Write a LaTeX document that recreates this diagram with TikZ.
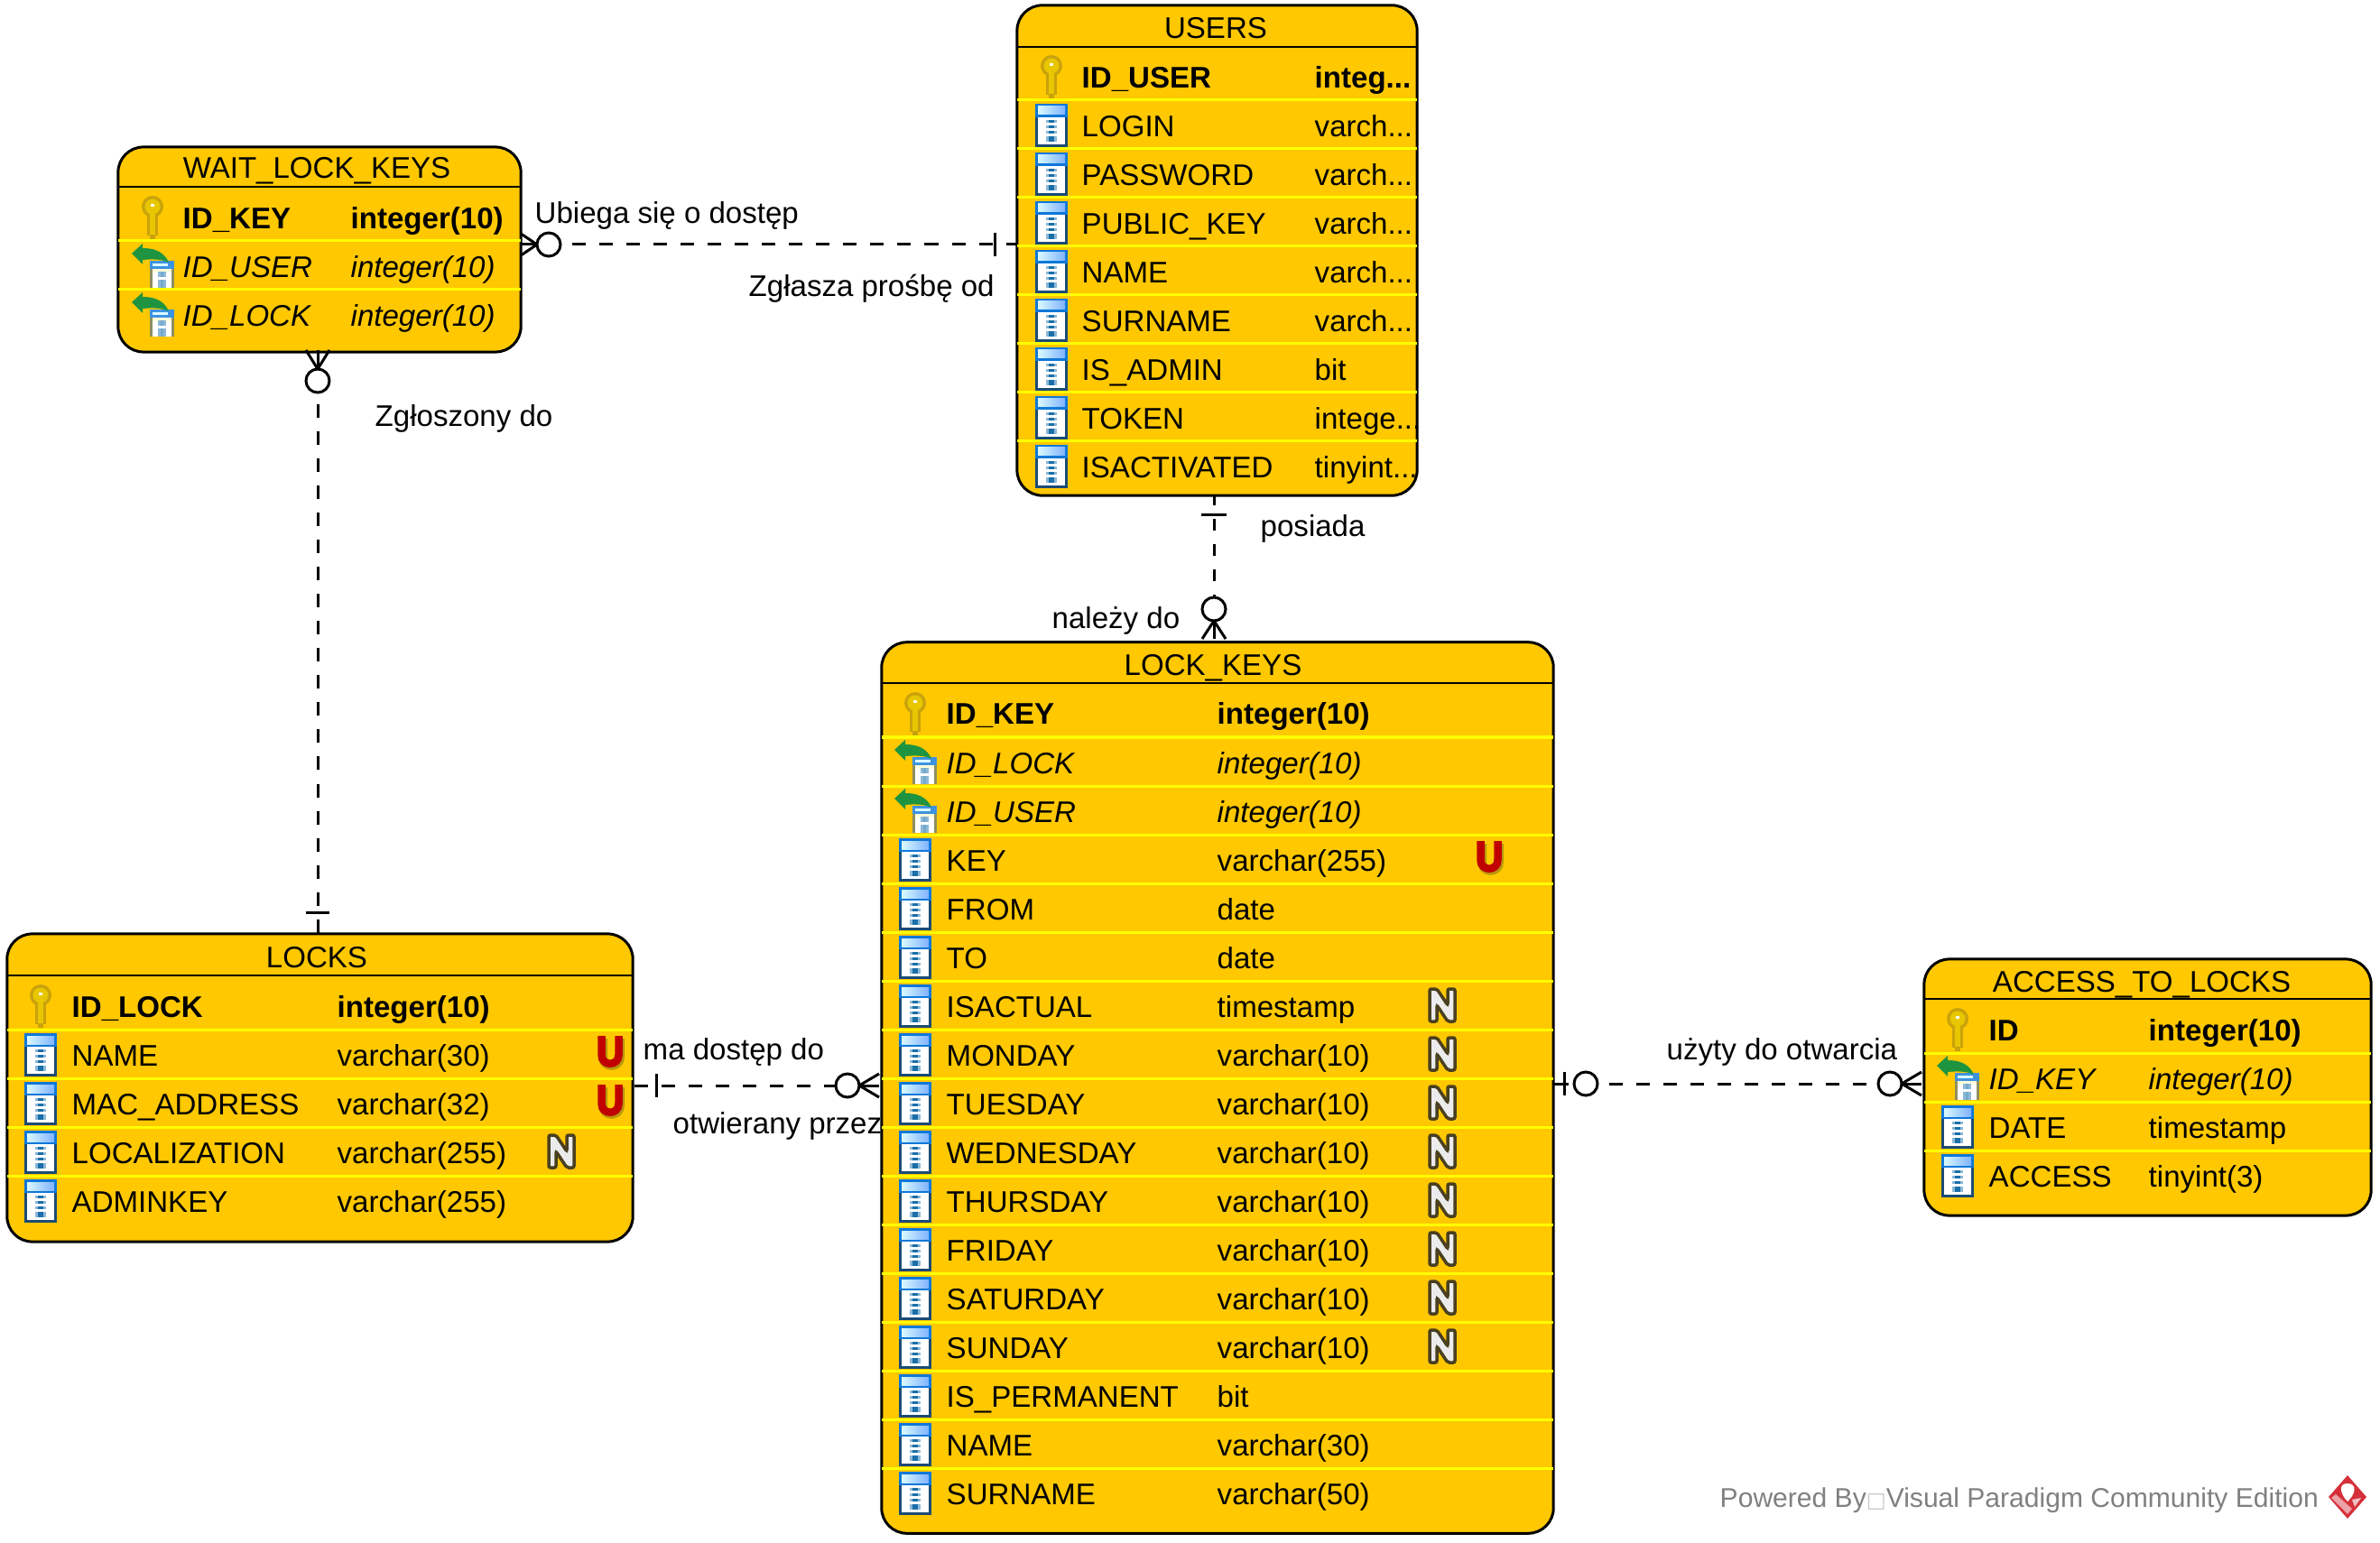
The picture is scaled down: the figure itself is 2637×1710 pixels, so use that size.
\documentclass[tikz,border=0pt]{standalone}
\usepackage{fontspec}
\setmainfont{Liberation Sans}
\newfontfamily\boxfont{DejaVu Sans}
\usetikzlibrary{calc}
\definecolor{tablefill}{HTML}{FFC800}
\definecolor{rowyellow}{HTML}{FFFF00}
\definecolor{colnavy}{HTML}{1B4B75}
\definecolor{colband}{HTML}{0E78D8}
\definecolor{barlight}{HTML}{8DB8D8}
\definecolor{bardark}{HTML}{1A6FA8}
\definecolor{keydark}{HTML}{C9A20C}
\definecolor{keygold}{HTML}{E8C600}
\definecolor{fkgreen}{HTML}{1F9440}
\definecolor{fkside}{HTML}{8F8F60}
\definecolor{uniquered}{HTML}{C00000}
\definecolor{uniqueshade}{HTML}{B8980C}
\definecolor{nulldark}{HTML}{4A4020}
\definecolor{logored}{HTML}{D5303A}
\newcommand{\clipdots}{...}
\newcommand{\rowfont}{\fontsize{9.4}{12}\selectfont}
\tikzset{
  tablebox/.style={draw=black,fill=tablefill,line width=0.03cm,rounded corners=0.28cm,inner sep=0pt,outer sep=0pt},
  titleline/.style={black,line width=0.02cm},
  rowline/.style={rowyellow,line width=0.03cm},
  titletext/.style={anchor=base,inner sep=0pt,font=\rowfont},
  fieldtext/.style={anchor=base west,inner sep=0pt,font=\rowfont},
  pkfont/.style={font=\rowfont\bfseries},
  fkfont/.style={font=\rowfont\itshape},
  plainfont/.style={},
  rellabel/.style={anchor=base west,inner sep=0pt,font=\rowfont},
  relline/.style={black,line width=0.03cm,dash pattern=on 4.27pt off 4.27pt,dash phase=4.83pt},
  markline/.style={black,line width=0.03cm},
  zeromark/.style={circle,draw=black,fill=white,line width=0.03cm,minimum size=0.26cm,inner sep=0pt,outer sep=0pt},
  colicon/.pic={
    \fill[colnavy] (-52,4) rectangle (-16,52);
    \fill[colband] (-52,4) rectangle (-16,19);
    \shade[left color=blue!15!cyan!15,right color=blue!60!cyan!50] (-49,7) rectangle (-19,16);
    \fill[white] (-49,19) rectangle (-19,49);
    \foreach \by/\bh in {22/3,28/3,34/3,40/6}{
      \fill[barlight] (-40,\by) rectangle (-28,\by+\bh);
      \fill[bardark] (-37,\by) rectangle (-31,\by+\bh);
    }
  },
  keyicon/.pic={
    \fill[keydark] (-34,16) circle (0.12cm);
    \fill[keydark] (-40,24) rectangle (-28,48);
    \fill[keydark] (-37,48) rectangle (-31,52);
    \fill[keygold] (-34,16) circle (0.085cm);
    \fill[keygold] (-37,24) rectangle (-31,47);
    \fill[white] (-36,13) rectangle (-32,16);
  },
  fkicon/.pic={
    \fill[fkside] (-37,22) rectangle (-10,52);
    \fill[white] (-34,31) rectangle (-13,52);
    \fill[yellow!15] (-34,31) rectangle (-13,35);
    \fill[barlight] (-28,34) rectangle (-19,40);
    \fill[barlight] (-28,43) rectangle (-19,52);
    \fill[bardark!60] (-25,34) rectangle (-22,40);
    \fill[bardark!60] (-25,43) rectangle (-22,52);
    \fill[colband!80!white] (-37,22) rectangle (-10,31);
    \fill[blue!15!cyan!15] (-34,25) rectangle (-17,28);
    \fill[fkgreen] (-57,14) -- (-45,3) -- (-45,8) .. controls (-32,8) and (-21,12) .. (-16,24)
      .. controls (-24,20) and (-34,20) .. (-45,21) -- (-45,26) -- cycle;
  },
  uniqueflag/.pic={
    \draw[uniqueshade,line width=0.1cm,shift={(1.5,2)}] (-9.5,8) -- (-9.5,28) .. controls (-9.5,41) and (9.5,41) .. (9.5,28) -- (9.5,8);
    \draw[uniquered,line width=0.085cm] (-9.5,7) -- (-9.5,28) .. controls (-9.5,41) and (9.5,41) .. (9.5,28) -- (9.5,7);
  },
  nullflag/.pic={
    \filldraw[draw=nulldark,fill=white!92!black,line width=0.035cm,rounded corners=0.02cm]
      (-14,9) -- (-6,9) -- (6,27) -- (6,9) -- (14,9) -- (14,45) -- (6,45) -- (-6,27) -- (-6,45) -- (-14,45) -- cycle;
  }
}

\begin{document}
\begin{tikzpicture}[x=0.01cm,y=-0.01cm]
\useasboundingbox (0,0) rectangle (2637,1710);

% tables
\node[tablebox,minimum width=4.43cm,minimum height=5.43cm] (users) at (1348.5,277.5) {};
\node[tablebox,minimum width=4.46cm,minimum height=2.27cm] (waitKeys) at (354,276.5) {};
\node[tablebox,minimum width=7.44cm,minimum height=9.87cm] (lockKeys) at (1349,1205.5) {};
\node[tablebox,minimum width=6.93cm,minimum height=3.41cm] (locks) at (354.5,1205.5) {};
\node[tablebox,minimum width=4.95cm,minimum height=2.84cm] (access) at (2379.5,1205) {};

\node[titletext] (usersTitle) at (1347,43) {USERS};
\node[titletext] (waitKeysTitle) at (351,198) {WAIT\_LOCK\_KEYS};
\node[titletext] (lockKeysTitle) at (1344,749) {LOCK\_KEYS};
\node[titletext] (locksTitle) at (351,1072) {LOCKS};
\node[titletext] (accessTitle) at (2373,1099) {ACCESS\_TO\_LOCKS};

\draw[titleline] (users.west |- 0,52) -- (users.east |- 0,52);
\draw[titleline] (waitKeys.west |- 0,207) -- (waitKeys.east |- 0,207);
\draw[titleline] (lockKeys.west |- 0,757) -- (lockKeys.east |- 0,757);
\draw[titleline] (locks.west |- 0,1081) -- (locks.east |- 0,1081);
\draw[titleline] (access.west |- 0,1107) -- (access.east |- 0,1107);

\foreach \i in {1,...,8}
  \draw[rowline] (users.west |- 0,57+54*\i) -- (users.east |- 0,57+54*\i);
\foreach \i in {1,2}
  \draw[rowline] (waitKeys.west |- 0,213+54*\i) -- (waitKeys.east |- 0,213+54*\i);
\foreach \i in {1,...,16}
  \draw[rowline] (lockKeys.west |- 0,763+54*\i) -- (lockKeys.east |- 0,763+54*\i);
\foreach \i in {1,...,4}
  \draw[rowline] (locks.west |- 0,1087+54*\i) -- (locks.east |- 0,1087+54*\i);
\foreach \i in {1,2,3}
  \draw[rowline] (access.west |- 0,1113+54*\i) -- (access.east |- 0,1113+54*\i);

% rows
\foreach \ico/\fnt/\lab/\typ [count=\i from 0] in {
    keyicon/pkfont/ID\_USER/integ\clipdots,
    colicon/plainfont/LOGIN/varch\clipdots,
    colicon/plainfont/PASSWORD/varch\clipdots,
    colicon/plainfont/PUBLIC\_KEY/varch\clipdots,
    colicon/plainfont/NAME/varch\clipdots,
    colicon/plainfont/SURNAME/varch\clipdots,
    colicon/plainfont/IS\_ADMIN/bit,
    colicon/plainfont/TOKEN/intege\clipdots,
    colicon/plainfont/ISACTIVATED/tinyint\clipdots}{
  \pic at (1199,57+54*\i) {\ico};
  \node[fieldtext,\fnt] (usersName\i) at (1198,98+54*\i) {\lab};
  \node[fieldtext,\fnt] (usersType\i) at (1456,98+54*\i) {\typ};
}
\foreach \ico/\fnt/\lab/\typ [count=\i from 0] in {
    keyicon/pkfont/ID\_KEY/integer(10),
    fkicon/fkfont/ID\_USER/integer(10),
    fkicon/fkfont/ID\_LOCK/integer(10)}{
  \pic at (203,213+54*\i) {\ico};
  \node[fieldtext,\fnt] (waitKeysName\i) at (202,253.5+54*\i) {\lab};
  \node[fieldtext,\fnt] (waitKeysType\i) at (388,253.5+54*\i) {\typ};
}
\foreach \ico/\fnt/\lab/\typ [count=\i from 0] in {
    keyicon/pkfont/ID\_KEY/integer(10),
    fkicon/fkfont/ID\_LOCK/integer(10),
    fkicon/fkfont/ID\_USER/integer(10),
    colicon/plainfont/KEY/varchar(255),
    colicon/plainfont/FROM/date,
    colicon/plainfont/TO/date,
    colicon/plainfont/ISACTUAL/timestamp,
    colicon/plainfont/MONDAY/varchar(10),
    colicon/plainfont/TUESDAY/varchar(10),
    colicon/plainfont/WEDNESDAY/varchar(10),
    colicon/plainfont/THURSDAY/varchar(10),
    colicon/plainfont/FRIDAY/varchar(10),
    colicon/plainfont/SATURDAY/varchar(10),
    colicon/plainfont/SUNDAY/varchar(10),
    colicon/plainfont/IS\_PERMANENT/bit,
    colicon/plainfont/NAME/varchar(30),
    colicon/plainfont/SURNAME/varchar(50)}{
  \pic at (1048,763+54*\i) {\ico};
  \node[fieldtext,\fnt] (lockKeysName\i) at (1048,803+54*\i) {\lab};
  \node[fieldtext,\fnt] (lockKeysType\i) at (1348,803+54*\i) {\typ};
}
\foreach \ico/\fnt/\lab/\typ [count=\i from 0] in {
    keyicon/pkfont/ID\_LOCK/integer(10),
    colicon/plainfont/NAME/varchar(30),
    colicon/plainfont/MAC\_ADDRESS/varchar(32),
    colicon/plainfont/LOCALIZATION/varchar(255),
    colicon/plainfont/ADMINKEY/varchar(255)}{
  \pic at (79,1087+54*\i) {\ico};
  \node[fieldtext,\fnt] (locksName\i) at (79,1127+54*\i) {\lab};
  \node[fieldtext,\fnt] (locksType\i) at (373,1127+54*\i) {\typ};
}
\foreach \ico/\fnt/\lab/\typ [count=\i from 0] in {
    keyicon/pkfont/ID/integer(10),
    fkicon/fkfont/ID\_KEY/integer(10),
    colicon/plainfont/DATE/timestamp,
    colicon/plainfont/ACCESS/tinyint(3)}{
  \pic at (2203,1113+54*\i) {\ico};
  \node[fieldtext,\fnt] (accessName\i) at (2203,1153+54*\i) {\lab};
  \node[fieldtext,\fnt] (accessType\i) at (2380,1153+54*\i) {\typ};
}

% flags
\pic at (1650,925) {uniqueflag};
\pic at (676,1141) {uniqueflag};
\pic at (676,1195) {uniqueflag};
\pic at (622,1249) {nullflag};
\foreach \i in {6,...,13}
  \pic at (1598,763+54*\i) {nullflag};

% relations
\node[zeromark] (waitUsersZero) at (608,271) {};
\draw[relline] (waitUsersZero) -- (users.west |- waitUsersZero);
\draw[markline] (1102,258) -- (1102,284);
\foreach \dy in {-12,0,12}
  \draw[markline] (waitUsersZero.west) -- (waitKeys.east |- 0,271+\dy);

\node[zeromark] (waitLocksZero) at (352,422) {};
\draw[relline] (waitLocksZero) -- (waitLocksZero |- locks.north);
\draw[markline] (339,1011) -- (365,1011);
\foreach \dx in {-13,0,13}
  \draw[markline] (waitLocksZero.north) -- (352+\dx,388);

\node[zeromark] (locksKeysZero) at (939,1203) {};
\draw[relline,dash phase=8.0pt] (locks.east |- locksKeysZero) -- (locksKeysZero);
\draw[markline] (727,1190) -- (727,1216);
\foreach \dy in {-13,0,13}
  \draw[markline] (locksKeysZero.east) -- (974,1203+\dy);

\node[zeromark] (usersKeysZero) at (1345,675) {};
\draw[relline,dash phase=0.57pt,dash pattern=on 3.7pt off 4.27pt] (usersKeysZero |- users.south) -- (usersKeysZero);
\draw[markline] (1331,571) -- (1359,571);
\foreach \dx in {-13,0,13}
  \draw[markline] (usersKeysZero.south) -- (1345+\dx,708);

\node[zeromark] (keysAccessOne) at (1757,1201) {};
\node[zeromark] (keysAccessZero) at (2094,1201) {};
\draw[relline] (keysAccessOne) -- (keysAccessZero);
\draw[markline] (lockKeys.east |- keysAccessOne) -- (1738,1201);
\draw[markline] (1733,1188) -- (1733,1214);
\foreach \dy in {-13,0,13}
  \draw[markline] (keysAccessZero.east) -- (2129,1201+\dy);

% labels
\node[rellabel] (waitUsersTop) at (592,248) {Ubiega się o dostęp};
\node[rellabel] (waitUsersBottom) at (829,329) {Zgłasza prośbę od};
\node[rellabel] (waitLocksText) at (415,473) {Zgłoszony do};
\node[rellabel] (usersKeysRight) at (1396,595) {posiada};
\node[rellabel] (usersKeysLeft) at (1165,697) {należy do};
\node[rellabel] (locksKeysTop) at (712,1174) {ma dostęp do};
\node[rellabel] (locksKeysBottom) at (745,1256) {otwierany przez};
\node[rellabel] (keysAccessText) at (1846,1174) {użyty do otwarcia};

% footer
\node[anchor=base west,inner sep=0pt,text=black!50,font=\fontsize{8.55}{10}\selectfont] (poweredBy) at (1905,1670)
  {Powered By{\boxfont\fontsize{6.6}{10}\selectfont\textcolor{black!22}{□}}Visual Paradigm Community Edition};
\fill[logored] (2601,1635) -- (2622,1659) -- (2601,1683) -- (2580,1659) -- cycle;
\fill[white] (2601,1644) .. controls (2612,1644) and (2610,1656) .. (2601,1664) .. controls (2593,1656) and (2590,1644) .. (2601,1644);
\fill[logored!45!white] (2583,1660) -- (2588,1656) -- (2606,1672) -- (2601,1678) -- cycle;
\fill[logored!30!white] (2606,1662) -- (2616,1660) -- (2609,1670) -- cycle;
\end{tikzpicture}
\end{document}
